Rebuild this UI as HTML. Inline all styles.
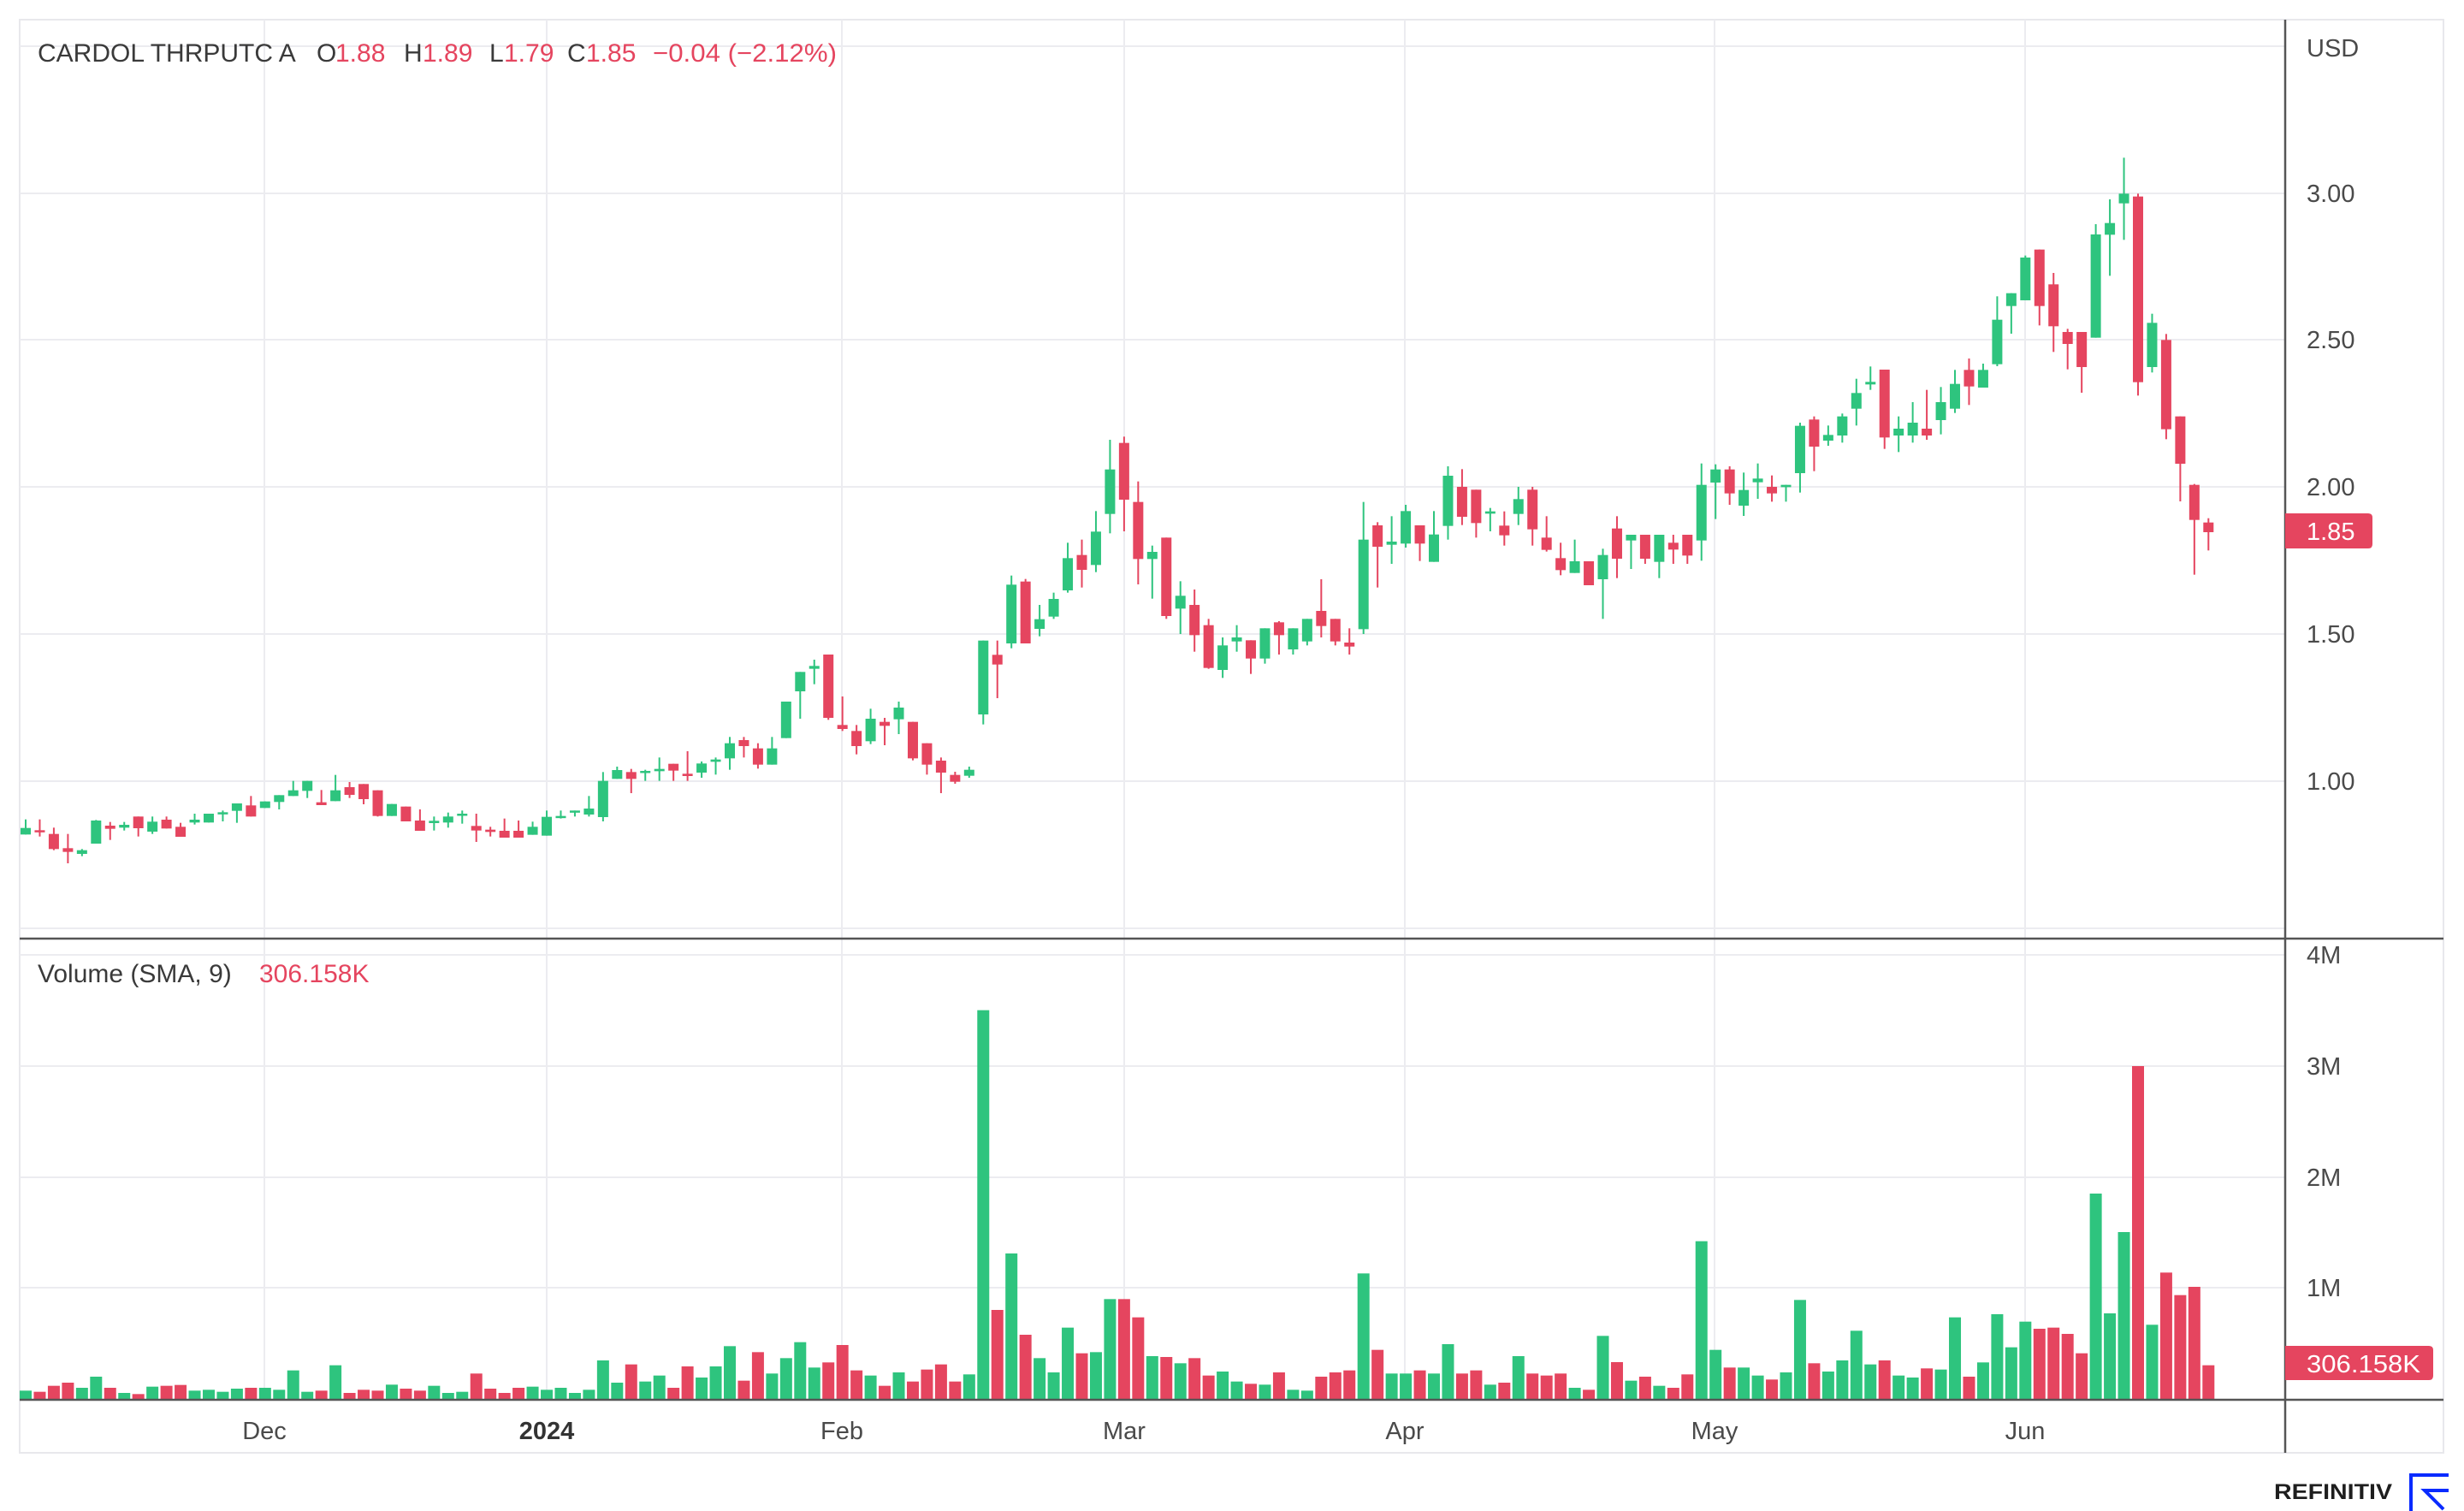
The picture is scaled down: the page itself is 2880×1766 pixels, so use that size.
<!DOCTYPE html>
<html><head><meta charset="utf-8">
<style>
html,body{margin:0;padding:0;background:#fff;}
svg{display:block;}
text{font-family:"Liberation Sans",Arial,sans-serif;}
</style></head><body>
<svg id="s" width="2880" height="1766" viewBox="0 0 2880 1766" xmlns="http://www.w3.org/2000/svg">
<rect width="2880" height="1766" fill="#fff"/>
<rect x="23" y="23" width="2833" height="1675" fill="none" stroke="#e8e8ec" stroke-width="2"/>
<g stroke="#ececf0" stroke-width="2">
<line x1="23" x2="2671" y1="54" y2="54"/>
<line x1="23" x2="2671" y1="226" y2="226"/>
<line x1="23" x2="2671" y1="397" y2="397"/>
<line x1="23" x2="2671" y1="569" y2="569"/>
<line x1="23" x2="2671" y1="741" y2="741"/>
<line x1="23" x2="2671" y1="913" y2="913"/>
<line x1="23" x2="2671" y1="1085" y2="1085"/>
<line x1="23" x2="2671" y1="1116" y2="1116"/>
<line x1="23" x2="2671" y1="1246" y2="1246"/>
<line x1="23" x2="2671" y1="1376" y2="1376"/>
<line x1="23" x2="2671" y1="1505" y2="1505"/>
<line x1="309" x2="309" y1="23" y2="1636"/>
<line x1="639" x2="639" y1="23" y2="1636"/>
<line x1="984" x2="984" y1="23" y2="1636"/>
<line x1="1314" x2="1314" y1="23" y2="1636"/>
<line x1="1642" x2="1642" y1="23" y2="1636"/>
<line x1="2004" x2="2004" y1="23" y2="1636"/>
<line x1="2367" x2="2367" y1="23" y2="1636"/>
</g>
<g id="cd"></g>
<g id="vb"></g>
<g stroke="#555" stroke-width="2.5">
<line x1="23" x2="2856" y1="1097" y2="1097"/>
<line x1="23" x2="2856" y1="1636" y2="1636"/>
<line x1="2671" x2="2671" y1="23" y2="1698"/>
</g>
<!-- header -->
<g font-size="30">
<text x="44" y="72" fill="#3a3a3a">CARDOL THRPUTC A</text>
<text x="370" y="72" fill="#3a3a3a">O</text><text x="392" y="72" fill="#e5455f">1.88</text>
<text x="472" y="72" fill="#3a3a3a">H</text><text x="494" y="72" fill="#e5455f">1.89</text>
<text x="572" y="72" fill="#3a3a3a">L</text><text x="589" y="72" fill="#e5455f">1.79</text>
<text x="663" y="72" fill="#3a3a3a">C</text><text x="685" y="72" fill="#e5455f">1.85</text>
<text x="763" y="72" fill="#e5455f" textLength="215" lengthAdjust="spacingAndGlyphs">−0.04 (−2.12%)</text>
<text x="44" y="1148" fill="#3a3a3a">Volume (SMA, 9)</text>
<text x="303" y="1148" fill="#e5455f">306.158K</text>
</g>
<!-- right axis -->
<g font-size="29" fill="#4a4a4a">
<text x="2696" y="66">USD</text>
<text x="2696" y="236">3.00</text>
<text x="2696" y="407">2.50</text>
<text x="2696" y="579">2.00</text>
<text x="2696" y="751">1.50</text>
<text x="2696" y="923">1.00</text>
<text x="2696" y="1126">4M</text>
<text x="2696" y="1256">3M</text>
<text x="2696" y="1386">2M</text>
<text x="2696" y="1515">1M</text>
</g>
<path d="M2671 600 H2768 Q2773 600 2773 605 V636 Q2773 641 2768 641 H2671 Z" fill="#e5455f"/>
<text x="2696" y="631" font-size="29" fill="#fff">1.85</text>
<path d="M2671 1573 H2839 Q2844 1573 2844 1578 V1608 Q2844 1613 2839 1613 H2671 Z" fill="#e5455f"/>
<text x="2696" y="1604" font-size="29" fill="#fff" textLength="133" lengthAdjust="spacingAndGlyphs">306.158K</text>
<!-- date axis -->
<g font-size="29" fill="#4a4a4a" text-anchor="middle">
<text x="309" y="1682">Dec</text>
<text x="639" y="1682" font-weight="bold" fill="#333">2024</text>
<text x="984" y="1682">Feb</text>
<text x="1314" y="1682">Mar</text>
<text x="1642" y="1682">Apr</text>
<text x="2004" y="1682">May</text>
<text x="2367" y="1682">Jun</text>
</g>
<text x="2658" y="1752" font-size="25" font-weight="bold" fill="#1e1e1e" textLength="138" lengthAdjust="spacingAndGlyphs">REFINITIV</text>
<g stroke="#0a2bff" stroke-width="4" fill="none">
<path d="M2862 1724 H2818 V1768"/>
<path d="M2862 1742 H2834 L2856 1764"/>
</g>
</svg>
<script>
(function(){
var GC='#2ec47e', RC='#e5455f';
var segs=[[840,`
G 353 383 406 406
R 353 391 398 413
R 382 404 457 461
R 404 454 467 507
G 457 461 474 482
G 355 357 438 438
R 362 375 386 425
G 362 372 382 392
R 343 343 384 413
G 343 361 396 404
R 343 354 385 385
R 365 379 414 414
G 333 354 364 371
G 333 333 364 364
G 322 328 334 360
G 297 297 323 365
R 271 304 343 343
G 290 290 313 313
G 268 268 292 318
G 218 251 271 271
G 218 218 253 278
R 250 293 303 303
G 197 251 289 289
R 222 240 267 278
R 229 229 282 300
R 251 251 341 343
G 299 299 341 341
R 308 308 360 360
R 318 357 393 393
G 343 358 366 392
G 329 343 364 382
G 322 333 340 368
R 333 376 392 432
R 379 389 397 413
R 350 393 417 417
R 357 393 417 417
G 361 379 407 407
G 322 344 410 410
G 322 341 348 350
G 322 322 328 343
G 271 315 336 343`],[740,`
G 487 518 645 660
G 468 480 511 511
R 476 487 511 561
G 479 483 490 518
G 436 476 484 518
R 458 458 482 518
R 414 493 501 518
G 450 457 489 507
G 436 443 451 496
G 364 386 439 479
R 364 375 396 436
R 386 404 461 475
G 364 404 461 461
G 240 240 368 368
G 136 136 204 300
G 93 115 125 179
R 75 75 297 304
R 222 322 336 343
R 322 343 396 425
G 265 300 379 389
R 297 311 325 393
G 240 261 302 354
R 311 311 439 446
R 386 386 461 496
R 436 447 489 561
R 486 497 521 528
G 468 479 500 507`],[490,`
G 776 776 1035 1070
R 776 826 860 978
G 548 580 786 803
R 560 569 786 786
G 651 701 735 761
G 608 630 692 700
G 433 487 600 608
R 422 476 528 590
G 322 394 511 536
G 72 176 332 400
R 61 83 282 393
R 218 290 490 579
G 443 465 490 629
R 415 415 690 700
G 568 619 664 753
R 597 651 757 815
R 700 722 872 875
G 765 793 879 907
G 722 765 779 815
R 775 775 839 893
G 733 733 839 857
R 708 712 757 825
G 733 733 807 825
G 700 700 779 793
R 561 672 725 765
R 700 700 779 793
R 733 783 797 825
G 290 422 736 753
R 361 372 447 590
G 340 429 440 507
G 300 322 436 450
R 372 372 436 497
G 322 404 500 500`],[420,`
G 375 408 584 632
R 385 447 552 581
R 457 457 574 625
G 521 533 541 603
R 533 583 617 653
G 447 490 542 581
R 447 457 596 653
R 550 625 668 674
R 643 697 739 757
G 632 708 749 749
R 708 708 792 792
G 664 686 771 910
R 550 593 699 767
G 615 615 635 735
R 615 615 699 717
G 615 615 710 767
R 615 643 667 717
R 615 615 688 717
G 365 440 635 706
G 368 386 432 560
R 375 386 470 510
G 397 458 513 549
G 365 418 431 489
R 407 447 470 499
G 440 440 448 499
G 222 233 399 467
R 200 211 306 392
G 232 265 285 303
G 190 200 267 292
G 68 118 173 232
G 25 79 88 107
R 36 36 274 314
G 200 243 267 325
G 150 222 267 292
R 107 243 267 282`],[160,`
G 877 930 993 1043
G 817 866 953 968
R 777 817 875 940
G 795 817 879 879
G 559 641 797 804
G 548 548 593 690
G 416 423 573 573
R 395 395 593 661
R 477 517 664 754
R 673 684 726 815
R 684 684 807 897
G 306 342 704 704
G 219 302 343 487
G 73 199 233 361
R 199 209 860 907
G 620 652 807 826
R 691 712 1025 1060
R 980 980 1146 1278
R 1217 1220 1343 1535
R 1337 1352 1386 1450`]];
var c=[];
segs.forEach(function(sg){
  var off=sg[0];
  sg[1].trim().split('\n').forEach(function(l){
    var p=l.trim().split(/\s+/);
    c.push({c:p[0]==='G'?GC:RC,v:p.slice(1).map(function(n){return off+ (+n)/3;})});
  });
});
var vt=[1366,1370,1349,1338,1356,1317,1356,1374,1378,1352,
1349,1346,1366,1363,1370,1359,1356,1356,1363,1295,
1370,1366,1277,1374,1363,1366,1345,1359,1366,1349,
1374,1370,1306,1359,1374,1356,1352,1363,1356,1374,
1363,1260,1338,1274,1334,1313,1356,1281,1320,1281,
1210,1331,1231,1306,1252,1196,1285,1267,1206,1295,
1313,1349,1302,1334,1292,1274,1334,1309,32,1083,
885,1170,1252,1302,1145,1235,1231,1045,1045,
1109,1245,1248,1270,1252,1313,1299,1334,1342,1345,
1302,1363,1366,1317,1302,1295,955,1223,1306,1306,
1295,1306,1203,1306,1295,1345,1338,1245,1306,1313,
1306,1356,1363,1174,1266,1331,1317,1349,1356,1309,
842,1223,1285,1285,1313,1327,1302,1048,1270,1299,
1260,1156,1274,1260,1313,1320,1288,1292,1109,1317,
1267,1098,1214,1124,1149,1145,1167,1235,675,1095,
810,228,1135,952,1031,1002,1277];
var cs='',vs='';
for(var i=0;i<c.length;i++){
  var x=30+16.46*i, d=c[i], v=d.v;
  var hi=v[0], top=v[1], bot=v[2], lo=v[3];
  if(lo<bot) lo=bot; if(hi>top) hi=top;
  var bh=Math.max(bot-top,2.5);
  cs+='<rect x="'+(x-1).toFixed(2)+'" y="'+hi.toFixed(2)+'" width="2" height="'+Math.max(lo-hi,1).toFixed(2)+'" fill="'+d.c+'"/>';
  cs+='<rect x="'+(x-6).toFixed(2)+'" y="'+top.toFixed(2)+'" width="12" height="'+bh.toFixed(2)+'" fill="'+d.c+'"/>';
  if(i<vt.length){
    var y=1170+vt[i]/3;
    vs+='<rect x="'+(x-7).toFixed(2)+'" y="'+y.toFixed(2)+'" width="14" height="'+(1636-y).toFixed(2)+'" fill="'+d.c+'"/>';
  }
}
document.getElementById('cd').innerHTML=cs;
document.getElementById('vb').innerHTML=vs;
})();
</script>
</body></html>
